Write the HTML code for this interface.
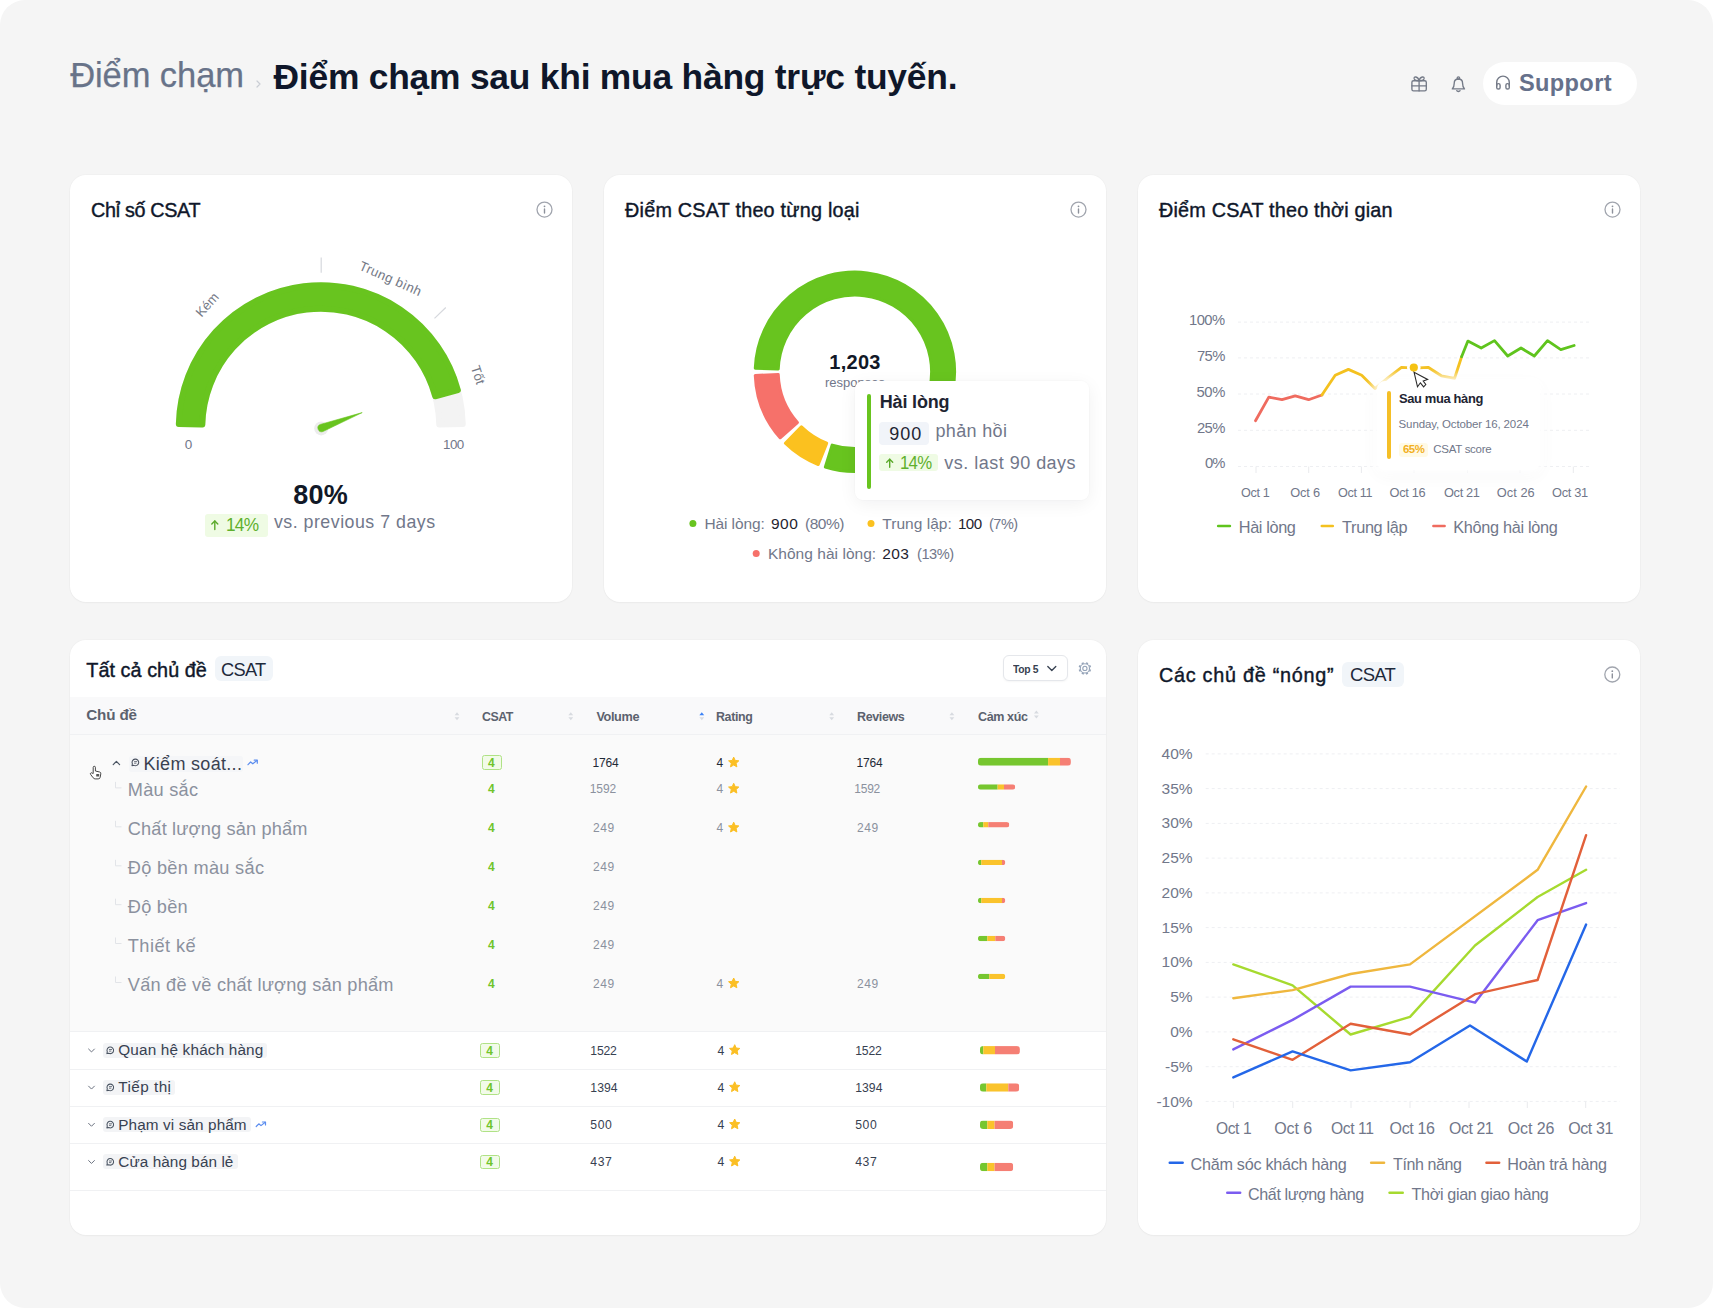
<!DOCTYPE html>
<html lang="vi"><head><meta charset="utf-8"><title>Điểm chạm sau khi mua hàng trực tuyến</title>
<style>
html,body{margin:0;padding:0;background:#fff;}
body{width:1713px;height:1308px;overflow:hidden;font-family:"Liberation Sans", sans-serif;}
#app{position:relative;width:1713px;height:1308px;background:#f5f5f5;border-radius:25px;overflow:hidden;}
.t{position:absolute;display:block;line-height:1;white-space:nowrap;}
svg{position:absolute;overflow:visible;}
</style></head><body><div id="app">
<span class="t" style="font-size:34.5px;color:#687389;-webkit-text-stroke:0.25px #687389;left:70.20px;top:58.00px;letter-spacing:-0.084px;">Điểm chạm</span>
<svg style="left:0;top:0;" width="1713" height="1308" viewBox="0 0 1713 1308"><polyline transform="translate(258.5,84) rotate(-90)" points="-3,-1.5 0,1.5 3,-1.5" fill="none" stroke="#c9cdd4" stroke-width="1.2" stroke-linecap="round" stroke-linejoin="round"/></svg>
<span class="t" style="font-size:35.4px;color:#0f172a;font-weight:700;left:273.50px;top:60.30px;letter-spacing:-0.226px;">Điểm chạm sau khi mua hàng trực tuyến.</span>
<svg style="left:0;top:0;" width="1713" height="1308" viewBox="0 0 1713 1308"><g fill="none" stroke="#747a87" stroke-width="1.35" stroke-linejoin="round" stroke-linecap="round"><rect x="1411.9" y="80.7" width="14.4" height="10.2" rx="1.6"/><line x1="1411.9" y1="85.8" x2="1426.3" y2="85.8"/><line x1="1419.1" y1="80.7" x2="1419.1" y2="90.9"/><path d="M1419.1,80.7 C1417.9,76.2 1413.4,76 1414.2,78.9 C1414.8,80.9 1417.2,80.7 1419.1,80.7 C1421,80.7 1423.4,80.9 1424,78.9 C1424.8,76 1420.3,76.2 1419.1,80.7 Z"/></g><g fill="none" stroke="#747a87" stroke-width="1.35" stroke-linejoin="round" stroke-linecap="round"><path d="M1452.3,88.9 H1464.5 C1463,87.4 1462.6,85.5 1462.6,83.4 C1462.6,80.6 1460.8,79 1458.4,79 C1456,79 1454.2,80.6 1454.2,83.4 C1454.2,85.5 1453.8,87.4 1452.3,88.9 Z"/><circle cx="1458.4" cy="78" r="1.2"/><path d="M1456.7,90.7 C1457.4,91.7 1459.4,91.7 1460.1,90.7"/></g></svg>
<div style="position:absolute;left:1482.5px;top:62.2px;width:154.7px;height:43.0px;background:#fff;border-radius:22px;"></div>
<svg style="left:0;top:0;" width="1713" height="1308" viewBox="0 0 1713 1308"><g fill="none" stroke="#747a87" stroke-width="1.4" stroke-linejoin="round" stroke-linecap="round"><path d="M1496.7,86 V82.4 A6.3,6.3 0 0 1 1509.3,82.4 V86"/><rect x="1496.7" y="83.6" width="3.4" height="5.4" rx="1.6"/><rect x="1505.9" y="83.6" width="3.4" height="5.4" rx="1.6"/></g></svg>
<span class="t" style="font-size:23.6px;color:#66718b;font-weight:700;left:1518.90px;top:72.30px;letter-spacing:0.377px;">Support</span>
<div style="position:absolute;left:70.0px;top:175.0px;width:502.0px;height:427.0px;background:#fff;border-radius:16px;box-shadow:0 1px 2px rgba(0,0,0,0.03),0 0 0 1px rgba(0,0,0,0.015);"></div>
<div style="position:absolute;left:604.0px;top:175.0px;width:502.0px;height:427.0px;background:#fff;border-radius:16px;box-shadow:0 1px 2px rgba(0,0,0,0.03),0 0 0 1px rgba(0,0,0,0.015);"></div>
<div style="position:absolute;left:1138.0px;top:175.0px;width:502.0px;height:427.0px;background:#fff;border-radius:16px;box-shadow:0 1px 2px rgba(0,0,0,0.03),0 0 0 1px rgba(0,0,0,0.015);"></div>
<div style="position:absolute;left:70.0px;top:640.0px;width:1036.4px;height:594.5px;background:#fff;border-radius:16px;box-shadow:0 1px 2px rgba(0,0,0,0.03),0 0 0 1px rgba(0,0,0,0.015);"></div>
<div style="position:absolute;left:1138.0px;top:640.0px;width:502.0px;height:594.5px;background:#fff;border-radius:16px;box-shadow:0 1px 2px rgba(0,0,0,0.03),0 0 0 1px rgba(0,0,0,0.015);"></div>
<span class="t" style="font-size:19.8px;color:#0f172a;-webkit-text-stroke:0.4px #0f172a;left:91.10px;top:201.40px;letter-spacing:-0.336px;">Chỉ số CSAT</span>
<svg style="left:0;top:0;" width="1713" height="1308" viewBox="0 0 1713 1308"><path d="M178.84,423.93 A142.00,142.00 0 0 1 462.76,423.93 L439.27,424.47 A118.50,118.50 0 0 0 202.33,424.47 Z" fill="#f3f3f3" stroke="#f3f3f3" stroke-width="6" stroke-linejoin="round"/><path d="M178.84,423.93 A142.00,142.00 0 0 1 457.88,390.16 L435.20,396.29 A118.50,118.50 0 0 0 202.33,424.47 Z" fill="#68c41f" stroke="#68c41f" stroke-width="6" stroke-linejoin="round"/><line x1="321.2" y1="257.5" x2="321.2" y2="272.7" stroke="#d6d8dd" stroke-width="1.2"/><line x1="434.5" y1="318.4" x2="445.8" y2="307.5" stroke="#d6d8dd" stroke-width="1.2"/><circle cx="321.2" cy="428.4" r="7" fill="#ececec"/><path d="M322.95,431.55 L362.20,412.60 L320.25,424.45 A3.8,3.8 0 0 0 322.95,431.55 Z" fill="#68c41f" stroke="#68c41f" stroke-width="0.6" stroke-linejoin="round"/><circle cx="544.5" cy="209.6" r="7.5" fill="none" stroke="#a1a5ae" stroke-width="1.3"/><line x1="544.5" y1="209.0" x2="544.5" y2="213.0" stroke="#8d919b" stroke-width="1.4" stroke-linecap="round"/><circle cx="544.5" cy="206.29999999999998" r="0.9" fill="#8d919b"/><circle cx="1078.5" cy="209.6" r="7.5" fill="none" stroke="#a1a5ae" stroke-width="1.3"/><line x1="1078.5" y1="209.0" x2="1078.5" y2="213.0" stroke="#8d919b" stroke-width="1.4" stroke-linecap="round"/><circle cx="1078.5" cy="206.29999999999998" r="0.9" fill="#8d919b"/><circle cx="1612.5" cy="209.6" r="7.5" fill="none" stroke="#a1a5ae" stroke-width="1.3"/><line x1="1612.5" y1="209.0" x2="1612.5" y2="213.0" stroke="#8d919b" stroke-width="1.4" stroke-linecap="round"/><circle cx="1612.5" cy="206.29999999999998" r="0.9" fill="#8d919b"/><circle cx="1612.3" cy="674.5" r="7.5" fill="none" stroke="#a1a5ae" stroke-width="1.3"/><line x1="1612.3" y1="673.9" x2="1612.3" y2="677.9" stroke="#8d919b" stroke-width="1.4" stroke-linecap="round"/><circle cx="1612.3" cy="671.2" r="0.9" fill="#8d919b"/></svg>
<span class="t" style="font-size:13.2px;color:#747986;left:193.64px;top:298.46px;transform-origin:13.56px 7.04px;transform:rotate(-48deg);">Kém</span>
<span class="t" style="font-size:13.2px;color:#747986;left:356.65px;top:271.66px;letter-spacing:0.356px;transform-origin:33.25px 7.04px;transform:rotate(24deg);">Trung bình</span>
<span class="t" style="font-size:13.2px;color:#747986;left:468.07px;top:367.96px;transform-origin:9.53px 7.04px;transform:rotate(72deg);">Tốt</span>
<span class="t" style="font-size:13.5px;color:#71778a;left:184.64px;top:437.80px;">0</span>
<span class="t" style="font-size:13.5px;color:#71778a;left:442.80px;top:437.80px;letter-spacing:-0.507px;transform-origin:0 0;transform:scaleX(0.9899);">100</span>
<span class="t" style="font-size:27px;color:#111827;font-weight:700;left:293.20px;top:481.70px;letter-spacing:0.327px;">80%</span>
<div style="position:absolute;left:205.2px;top:514.0px;width:62.7px;height:22.8px;background:#effbe4;border-radius:3px;"></div>
<svg style="left:0;top:0;" width="1713" height="1308" viewBox="0 0 1713 1308"><line x1="214.8" y1="520.95" x2="214.8" y2="529.45" stroke="#5aa92a" stroke-width="1.4" stroke-linecap="round"/><polyline points="211.8,523.95 214.8,520.95 217.8,523.95" fill="none" stroke="#5aa92a" stroke-width="1.4" stroke-linecap="round" stroke-linejoin="round"/></svg>
<span class="t" style="font-size:18px;color:#5fb02c;left:226.00px;top:515.70px;letter-spacing:-0.811px;transform-origin:0 0;transform:scaleX(0.9590);">14%</span>
<span class="t" style="font-size:17.8px;color:#71778a;left:273.90px;top:513.70px;letter-spacing:0.500px;">vs. previous 7 days</span>
<span class="t" style="font-size:19.8px;color:#0f172a;-webkit-text-stroke:0.4px #0f172a;left:625.00px;top:201.40px;letter-spacing:0.234px;">Điểm CSAT theo từng loại</span>
<svg style="left:0;top:0;" width="1713" height="1308" viewBox="0 0 1713 1308"><path d="M755.27,375.41 A99.70,99.70 0 0 0 780.14,437.77 L797.39,422.55 A76.70,76.70 0 0 1 778.25,374.58 Z" fill="#f6716a" stroke="#f6716a" stroke-width="3.0" stroke-linejoin="round"/><path d="M785.36,443.24 A99.70,99.70 0 0 0 818.24,464.52 L826.70,443.13 A76.70,76.70 0 0 1 801.40,426.76 Z" fill="#fbc11f" stroke="#fbc11f" stroke-width="3.0" stroke-linejoin="round"/><path d="M825.38,467.03 A99.70,99.70 0 1 0 755.27,368.19 L778.25,369.02 A76.70,76.70 0 1 1 832.19,445.06 Z" fill="#68c41f" stroke="#68c41f" stroke-width="3.0" stroke-linejoin="round"/></svg>
<span class="t" style="font-size:20px;color:#111827;font-weight:700;left:829.30px;top:352.30px;letter-spacing:0.259px;">1,203</span>
<span class="t" style="font-size:13px;color:#71778a;left:825.01px;top:376.00px;">responses</span>
<div style="position:absolute;left:854.5px;top:381.0px;width:234.4px;height:118.6px;background:#fff;border-radius:8px;box-shadow:0 4px 18px rgba(15,23,42,0.06),0 0 0 1px rgba(15,23,42,0.012);"></div>
<div style="position:absolute;left:866.7px;top:393.5px;width:4.6px;height:95.2px;background:#68c41f;border-radius:2.3px;"></div>
<span class="t" style="font-size:18px;color:#1e2432;font-weight:700;left:879.80px;top:393.20px;letter-spacing:-0.186px;">Hài lòng</span>
<div style="position:absolute;left:878.7px;top:421.8px;width:50.5px;height:23.2px;background:#f1f4f9;border-radius:4px;"></div>
<span class="t" style="font-size:18px;color:#1e2432;left:889.20px;top:424.70px;letter-spacing:0.977px;">900</span>
<span class="t" style="font-size:18px;color:#71778a;left:935.50px;top:421.50px;letter-spacing:0.332px;">phản hồi</span>
<div style="position:absolute;left:878.7px;top:454.4px;width:58.9px;height:16.8px;background:#effbe4;border-radius:3px;"></div>
<svg style="left:0;top:0;" width="1713" height="1308" viewBox="0 0 1713 1308"><line x1="889.7" y1="459.2" x2="889.7" y2="467.2" stroke="#5aa92a" stroke-width="1.4" stroke-linecap="round"/><polyline points="886.7,462.2 889.7,459.2 892.7,462.2" fill="none" stroke="#5aa92a" stroke-width="1.4" stroke-linecap="round" stroke-linejoin="round"/></svg>
<span class="t" style="font-size:17.7px;color:#5fb02c;left:900.20px;top:454.70px;letter-spacing:-0.797px;transform-origin:0 0;transform:scaleX(0.9493);">14%</span>
<span class="t" style="font-size:18px;color:#71778a;left:944.30px;top:453.70px;letter-spacing:0.483px;">vs. last 90 days</span>
<svg style="left:0;top:0;" width="1713" height="1308" viewBox="0 0 1713 1308"><circle cx="692.9" cy="523.4" r="3.5" fill="#68c41f"/><circle cx="871" cy="523.4" r="3.5" fill="#fbc11f"/><circle cx="756.2" cy="553.4" r="3.5" fill="#f6716a"/></svg>
<span class="t" style="font-size:15.5px;color:#71778a;left:704.50px;top:516.10px;letter-spacing:-0.111px;">Hài lòng:</span>
<span class="t" style="font-size:15.5px;color:#1f2430;left:770.90px;top:516.10px;letter-spacing:0.562px;">900</span>
<span class="t" style="font-size:15.5px;color:#71778a;left:805.00px;top:516.10px;letter-spacing:-0.465px;">(80%)</span>
<span class="t" style="font-size:15.5px;color:#71778a;left:882.30px;top:516.10px;letter-spacing:0.031px;">Trung lập:</span>
<span class="t" style="font-size:15.5px;color:#1f2430;left:957.90px;top:516.10px;letter-spacing:-0.582px;transform-origin:0 0;transform:scaleX(0.9753);">100</span>
<span class="t" style="font-size:15.5px;color:#71778a;left:989.00px;top:516.10px;letter-spacing:-0.491px;transform-origin:0 0;transform:scaleX(0.9341);">(7%)</span>
<span class="t" style="font-size:15.5px;color:#71778a;left:767.90px;top:546.10px;letter-spacing:0.040px;">Không hài lòng:</span>
<span class="t" style="font-size:15.5px;color:#1f2430;left:882.30px;top:546.10px;letter-spacing:0.363px;">203</span>
<span class="t" style="font-size:15.5px;color:#71778a;left:916.60px;top:546.10px;letter-spacing:-0.465px;transform-origin:0 0;transform:scaleX(0.9418);">(13%)</span>
<span class="t" style="font-size:19.8px;color:#0f172a;-webkit-text-stroke:0.4px #0f172a;left:1159.00px;top:201.40px;letter-spacing:0.202px;">Điểm CSAT theo thời gian</span>
<svg style="left:0;top:0;" width="1713" height="1308" viewBox="0 0 1713 1308"><line x1="1238" y1="322.1" x2="1590" y2="322.1" stroke="#eeeff2" stroke-width="1" stroke-dasharray="3 3"/><line x1="1238" y1="357.9" x2="1590" y2="357.9" stroke="#eeeff2" stroke-width="1" stroke-dasharray="3 3"/><line x1="1238" y1="394" x2="1590" y2="394" stroke="#eeeff2" stroke-width="1" stroke-dasharray="3 3"/><line x1="1238" y1="430.3" x2="1590" y2="430.3" stroke="#eeeff2" stroke-width="1" stroke-dasharray="3 3"/><line x1="1238" y1="466.5" x2="1590" y2="466.5" stroke="#eeeff2" stroke-width="1" stroke-dasharray="3 3"/><line x1="1256" y1="466.5" x2="1256" y2="473" stroke="#e9eaed" stroke-width="1"/><line x1="1308.7" y1="466.5" x2="1308.7" y2="473" stroke="#e9eaed" stroke-width="1"/><line x1="1361.4" y1="466.5" x2="1361.4" y2="473" stroke="#e9eaed" stroke-width="1"/><line x1="1414" y1="466.5" x2="1414" y2="473" stroke="#e9eaed" stroke-width="1"/><line x1="1467.5" y1="466.5" x2="1467.5" y2="473" stroke="#e9eaed" stroke-width="1"/><line x1="1520" y1="466.5" x2="1520" y2="473" stroke="#e9eaed" stroke-width="1"/><line x1="1573.3" y1="466.5" x2="1573.3" y2="473" stroke="#e9eaed" stroke-width="1"/><polyline points="1255.5,420.7 1268.8,397.1 1282.0,399.7 1295.3,395.8 1308.6,399.7 1321.9,395.0" fill="none" stroke="#ef6b5f" stroke-width="2.8" stroke-linejoin="round" stroke-linecap="round"/><polyline points="1321.9,395.0 1335.2,375.3 1348.4,369.4 1361.7,375.3 1375.0,388.6 1388.2,377.5 1401.5,367.3 1414.8,368.1 1428.1,367.3 1441.3,375.8 1454.6,378.3 1461.6,356.8" fill="none" stroke="#f4c11f" stroke-width="2.8" stroke-linejoin="round" stroke-linecap="round"/><polyline points="1461.6,356.8 1467.9,341.1 1481.2,348.0 1494.5,340.6 1507.7,356.0 1521.0,348.0 1534.3,356.0 1547.5,340.6 1560.8,349.6 1574.1,345.5" fill="none" stroke="#5fc41d" stroke-width="2.8" stroke-linejoin="round" stroke-linecap="round"/></svg>
<span class="t" style="font-size:14.8px;color:#71778a;left:1189.40px;top:313.20px;letter-spacing:-0.568px;transform-origin:0 0;transform:scaleX(0.9957);">100%</span>
<span class="t" style="font-size:14.8px;color:#71778a;left:1196.90px;top:349.10px;letter-spacing:-0.562px;">75%</span>
<span class="t" style="font-size:14.8px;color:#71778a;left:1196.40px;top:385.10px;letter-spacing:-0.312px;">50%</span>
<span class="t" style="font-size:14.8px;color:#71778a;left:1196.90px;top:420.50px;letter-spacing:-0.562px;">25%</span>
<span class="t" style="font-size:14.8px;color:#71778a;left:1204.90px;top:455.70px;letter-spacing:-0.891px;">0%</span>
<span class="t" style="font-size:12.8px;color:#71778a;left:1241.40px;top:487.30px;letter-spacing:-0.344px;transform-origin:0 0;transform:scaleX(0.9857);">Oct 1</span>
<span class="t" style="font-size:12.8px;color:#71778a;left:1290.15px;top:487.30px;letter-spacing:-0.123px;">Oct 6</span>
<span class="t" style="font-size:12.8px;color:#71778a;left:1338.30px;top:487.30px;letter-spacing:-0.331px;transform-origin:0 0;transform:scaleX(0.9859);">Oct 11</span>
<span class="t" style="font-size:12.8px;color:#71778a;left:1389.60px;top:487.30px;letter-spacing:-0.339px;">Oct 16</span>
<span class="t" style="font-size:12.8px;color:#71778a;left:1443.55px;top:487.30px;letter-spacing:-0.339px;transform-origin:0 0;transform:scaleX(0.9970);">Oct 21</span>
<span class="t" style="font-size:12.8px;color:#71778a;left:1496.65px;top:487.30px;letter-spacing:0.079px;">Oct 26</span>
<span class="t" style="font-size:12.8px;color:#71778a;left:1552.00px;top:487.30px;letter-spacing:-0.301px;">Oct 31</span>
<svg style="left:0;top:0;" width="1713" height="1308" viewBox="0 0 1713 1308"><line x1="1218.2" y1="526" x2="1229.9" y2="526" stroke="#5fc41d" stroke-width="2.6" stroke-linecap="round"/><line x1="1321.8" y1="526" x2="1332.8" y2="526" stroke="#f4c11f" stroke-width="2.6" stroke-linecap="round"/><line x1="1433.4" y1="526" x2="1444.6" y2="526" stroke="#ef6b5f" stroke-width="2.6" stroke-linecap="round"/></svg>
<span class="t" style="font-size:16.3px;color:#71778a;left:1238.80px;top:518.50px;letter-spacing:-0.379px;">Hài lòng</span>
<span class="t" style="font-size:16.3px;color:#71778a;left:1342.10px;top:518.50px;letter-spacing:-0.336px;">Trung lập</span>
<span class="t" style="font-size:16.3px;color:#71778a;left:1453.30px;top:518.50px;letter-spacing:-0.311px;">Không hài lòng</span>
<div style="position:absolute;left:1376.5px;top:380.5px;width:163.4px;height:89.0px;background:#fff;border-radius:8px;box-shadow:0 0 10px 5px rgba(255,255,255,0.92),0 5px 18px rgba(15,23,42,0.045);"></div>
<div style="position:absolute;left:1387.0px;top:391.2px;width:4.0px;height:67.5px;background:#f5bf27;border-radius:2px;"></div>
<span class="t" style="font-size:13.5px;color:#1e2432;font-weight:700;left:1399.10px;top:392.30px;letter-spacing:-0.377px;transform-origin:0 0;transform:scaleX(0.9567);">Sau mua hàng</span>
<span class="t" style="font-size:11.5px;color:#71778a;left:1398.60px;top:418.90px;letter-spacing:-0.140px;">Sunday, October 16, 2024</span>
<div style="position:absolute;left:1398.6px;top:442.6px;width:29.5px;height:14.1px;background:#fffae6;border-radius:3px;"></div>
<span class="t" style="font-size:11.5px;color:#f2b01e;font-weight:700;left:1402.50px;top:444.40px;letter-spacing:-0.518px;transform-origin:0 0;transform:scaleX(0.9911);">65%</span>
<span class="t" style="font-size:11.5px;color:#71778a;left:1433.30px;top:444.40px;letter-spacing:-0.293px;">CSAT score</span>
<svg style="left:0;top:0;" width="1713" height="1308" viewBox="0 0 1713 1308"><circle cx="1413.8" cy="367.6" r="6.8" fill="#fff"/><circle cx="1413.8" cy="367.6" r="4.1" fill="#f5c213"/><path d="M1414.1,372.3 L1417.5,386.8 L1420.4,382.8 L1423.6,386.9 L1425.8,384.5 L1423.2,381 L1427.6,379.5 Z" fill="#fff" stroke="#2a2a2a" stroke-width="1.1" stroke-linejoin="miter"/></svg>
<span class="t" style="font-size:19.8px;color:#0f172a;-webkit-text-stroke:0.4px #0f172a;left:86.30px;top:660.60px;letter-spacing:0.053px;">Tất cả chủ đề</span>
<div style="position:absolute;left:215.1px;top:655.6px;width:57.7px;height:25.1px;background:#f1f5f9;border-radius:6px;"></div>
<span class="t" style="font-size:19px;color:#1e293b;left:220.60px;top:660.40px;letter-spacing:-0.739px;transform-origin:0 0;transform:scaleX(0.9607);">CSAT</span>
<div style="position:absolute;left:1002.7px;top:655.3px;width:65.4px;height:25.4px;background:#fff;border-radius:6px;box-sizing:border-box;border:1px solid #e5e7eb;box-shadow:0 1px 2px rgba(0,0,0,0.04);"></div>
<span class="t" style="font-size:11.2px;color:#374151;font-weight:700;left:1012.60px;top:664.30px;letter-spacing:-0.326px;transform-origin:0 0;transform:scaleX(0.9239);">Top 5</span>
<div style="position:absolute;left:70.0px;top:696.5px;width:1036.4px;height:38.0px;background:#f9f9fa;border-radius:0px;"></div>
<div style="position:absolute;left:70.0px;top:734.5px;width:1036.4px;height:297.0px;background:#fafafa;border-radius:0px;"></div>
<div style="position:absolute;left:70.0px;top:734.2px;width:1036.4px;height:1.0px;background:#f0f1f3;border-radius:0px;"></div>
<div style="position:absolute;left:70.0px;top:1031.4px;width:1036.4px;height:1.0px;background:#f0f1f3;border-radius:0px;"></div>
<div style="position:absolute;left:70.0px;top:1068.5px;width:1036.4px;height:1.0px;background:#f0f1f3;border-radius:0px;"></div>
<div style="position:absolute;left:70.0px;top:1105.7px;width:1036.4px;height:1.0px;background:#f0f1f3;border-radius:0px;"></div>
<div style="position:absolute;left:70.0px;top:1143.0px;width:1036.4px;height:1.0px;background:#f0f1f3;border-radius:0px;"></div>
<div style="position:absolute;left:70.0px;top:1190.3px;width:1036.4px;height:1.0px;background:#f0f1f3;border-radius:0px;"></div>
<span class="t" style="font-size:15.2px;color:#5c626e;font-weight:700;left:86.30px;top:707.30px;letter-spacing:-0.154px;">Chủ đề</span>
<span class="t" style="font-size:12.7px;color:#5c626e;font-weight:700;left:482.20px;top:710.90px;letter-spacing:-0.504px;transform-origin:0 0;transform:scaleX(0.9752);">CSAT</span>
<span class="t" style="font-size:12.7px;color:#5c626e;font-weight:700;left:596.40px;top:710.90px;letter-spacing:-0.358px;">Volume</span>
<span class="t" style="font-size:12.7px;color:#5c626e;font-weight:700;left:716.10px;top:710.90px;letter-spacing:-0.355px;transform-origin:0 0;transform:scaleX(0.9786);">Rating</span>
<span class="t" style="font-size:12.7px;color:#5c626e;font-weight:700;left:857.40px;top:710.90px;letter-spacing:-0.381px;transform-origin:0 0;transform:scaleX(0.9856);">Reviews</span>
<span class="t" style="font-size:12.7px;color:#5c626e;font-weight:700;left:977.50px;top:710.90px;letter-spacing:-0.397px;transform-origin:0 0;transform:scaleX(0.9879);">Cảm xúc</span>
<div style="position:absolute;left:129.0px;top:756.0px;width:114.0px;height:15.5px;background:#f5f6f8;border-radius:3px;"></div>
<svg style="left:0;top:0;" width="1713" height="1308" viewBox="0 0 1713 1308"><polyline points="1047.8,666.5 1051.8,670.5 1055.8,666.5" fill="none" stroke="#374151" stroke-width="1.3" stroke-linecap="round" stroke-linejoin="round"/><g fill="none" stroke="#94a3b8" stroke-width="1.1"><circle cx="1084.9" cy="668.4" r="2.1"/><circle cx="1084.9" cy="668.4" r="4.6"/></g><line x1="1089.33" y1="670.24" x2="1090.72" y2="670.81" stroke="#94a3b8" stroke-width="2.2"/><line x1="1086.74" y1="672.83" x2="1087.31" y2="674.22" stroke="#94a3b8" stroke-width="2.2"/><line x1="1083.06" y1="672.83" x2="1082.49" y2="674.22" stroke="#94a3b8" stroke-width="2.2"/><line x1="1080.47" y1="670.24" x2="1079.08" y2="670.81" stroke="#94a3b8" stroke-width="2.2"/><line x1="1080.47" y1="666.56" x2="1079.08" y2="665.99" stroke="#94a3b8" stroke-width="2.2"/><line x1="1083.06" y1="663.97" x2="1082.49" y2="662.58" stroke="#94a3b8" stroke-width="2.2"/><line x1="1086.74" y1="663.97" x2="1087.31" y2="662.58" stroke="#94a3b8" stroke-width="2.2"/><line x1="1089.33" y1="666.56" x2="1090.72" y2="665.99" stroke="#94a3b8" stroke-width="2.2"/><polygon points="454.6,715.2 459.4,715.2 457,712.2" fill="#d8dbe0"/><polygon points="454.6,717.2 459.4,717.2 457,720.2" fill="#d8dbe0"/><polygon points="568.4,715.2 573.1999999999999,715.2 570.8,712.2" fill="#d8dbe0"/><polygon points="568.4,717.2 573.1999999999999,717.2 570.8,720.2" fill="#d8dbe0"/><polygon points="829.3000000000001,715.2 834.1,715.2 831.7,712.2" fill="#d8dbe0"/><polygon points="829.3000000000001,717.2 834.1,717.2 831.7,720.2" fill="#d8dbe0"/><polygon points="949.5,715.2 954.3,715.2 951.9,712.2" fill="#d8dbe0"/><polygon points="949.5,717.2 954.3,717.2 951.9,720.2" fill="#d8dbe0"/><polygon points="699.4,715.2 704.1999999999999,715.2 701.8,712.2" fill="#3b82f6"/><polygon points="699.4,717.2 704.1999999999999,717.2 701.8,720.2" fill="#d8dbe0"/><polygon points="1034.0,713.6 1038.8000000000002,713.6 1036.4,710.6" fill="#d8dbe0"/><polygon points="1034.0,715.6 1038.8000000000002,715.6 1036.4,718.6" fill="#d8dbe0"/><polyline points="113.2,764.6 116.4,761.4 119.60000000000001,764.6" fill="none" stroke="#4b5563" stroke-width="1.2" stroke-linecap="round" stroke-linejoin="round"/><path d="M132.0,765.6999999999999 L132.4,763.8 A3.3,3.3 0 1 1 133.9,765.35 Z" fill="none" stroke="#4b5260" stroke-width="1.05" stroke-linejoin="round"/><line x1="134.1" y1="761.6" x2="137.1" y2="761.6" stroke="#4b5260" stroke-width="0.8"/><line x1="134.1" y1="763.1999999999999" x2="136.4" y2="763.1999999999999" stroke="#4b5260" stroke-width="0.8"/><polyline points="248,764.7 250.6,762.0 252.8,763.8000000000001 257,760.5" fill="none" stroke="#5b8def" stroke-width="1.2" stroke-linejoin="round" stroke-linecap="round"/><polyline points="254.2,760.2 257.3,760.2 257.3,763.2" fill="none" stroke="#5b8def" stroke-width="1.2" stroke-linejoin="round" stroke-linecap="round"/><g fill="#fff" stroke="#333" stroke-width="0.9" stroke-linejoin="round"><path d="M93.2,773.5 V767.4 A1.1,1.1 0 0 1 95.4,767.4 V771 L99.6,772 A1.6,1.6 0 0 1 100.8,773.8 L100.2,777.2 A2,2 0 0 1 98.2,778.9 H95.2 A2.4,2.4 0 0 1 93.2,777.8 L90.6,774.4 A1,1 0 0 1 92.2,773.2 Z"/></g><rect x="96.2" y="774" width="3" height="2.6" rx="0.6" fill="#555"/><polyline points="115.5,781.9 115.5,787.9 121.5,787.9" fill="none" stroke="#e2e4e8" stroke-width="1"/><polyline points="115.5,820.8 115.5,826.8 121.5,826.8" fill="none" stroke="#e2e4e8" stroke-width="1"/><polyline points="115.5,859.8 115.5,865.8 121.5,865.8" fill="none" stroke="#e2e4e8" stroke-width="1"/><polyline points="115.5,898.7 115.5,904.7 121.5,904.7" fill="none" stroke="#e2e4e8" stroke-width="1"/><polyline points="115.5,937.5 115.5,943.5 121.5,943.5" fill="none" stroke="#e2e4e8" stroke-width="1"/><polyline points="115.5,976.5 115.5,982.5 121.5,982.5" fill="none" stroke="#e2e4e8" stroke-width="1"/></svg>
<span class="t" style="font-size:18px;color:#3a4150;left:143.50px;top:754.80px;letter-spacing:0.305px;">Kiểm soát...</span>
<span class="t" style="font-size:18.2px;color:#8b919e;left:127.80px;top:781.40px;letter-spacing:0.258px;">Màu sắc</span>
<span class="t" style="font-size:18.2px;color:#8b919e;left:127.80px;top:820.30px;letter-spacing:0.162px;">Chất lượng sản phẩm</span>
<span class="t" style="font-size:18.2px;color:#8b919e;left:127.80px;top:859.30px;letter-spacing:0.289px;">Độ bền màu sắc</span>
<span class="t" style="font-size:18.2px;color:#8b919e;left:127.80px;top:898.20px;letter-spacing:0.249px;">Độ bền</span>
<span class="t" style="font-size:18.2px;color:#8b919e;left:127.80px;top:937.00px;letter-spacing:0.442px;">Thiết kế</span>
<span class="t" style="font-size:18.2px;color:#8b919e;left:127.80px;top:976.00px;letter-spacing:0.215px;">Vấn đề về chất lượng sản phẩm</span>
<div style="position:absolute;left:482.0px;top:755.3px;width:19.6px;height:14.3px;background:#f2fbe9;border-radius:2.5px;box-sizing:border-box;border:1px solid #b0e286;"></div>
<span class="t" style="font-size:12px;color:#70c42a;font-weight:700;left:487.96px;top:756.60px;">4</span>
<span class="t" style="font-size:12px;color:#1f2937;left:592.40px;top:756.60px;letter-spacing:-0.134px;">1764</span>
<span class="t" style="font-size:12px;color:#1f2937;left:716.60px;top:756.60px;">4</span>
<span class="t" style="font-size:12px;color:#1f2937;left:856.60px;top:756.60px;letter-spacing:-0.234px;">1764</span>
<span class="t" style="font-size:12px;color:#70c42a;font-weight:700;left:487.96px;top:782.80px;">4</span>
<span class="t" style="font-size:12px;color:#70c42a;font-weight:700;left:487.96px;top:821.70px;">4</span>
<span class="t" style="font-size:12px;color:#70c42a;font-weight:700;left:487.96px;top:860.70px;">4</span>
<span class="t" style="font-size:12px;color:#70c42a;font-weight:700;left:487.96px;top:899.60px;">4</span>
<span class="t" style="font-size:12px;color:#70c42a;font-weight:700;left:487.96px;top:938.50px;">4</span>
<span class="t" style="font-size:12px;color:#70c42a;font-weight:700;left:487.96px;top:977.50px;">4</span>
<span class="t" style="font-size:12px;color:#8b919e;left:589.80px;top:782.80px;letter-spacing:-0.101px;">1592</span>
<span class="t" style="font-size:12px;color:#8b919e;left:716.60px;top:782.80px;">4</span>
<span class="t" style="font-size:12px;color:#8b919e;left:854.20px;top:782.80px;letter-spacing:-0.201px;">1592</span>
<span class="t" style="font-size:12px;color:#8b919e;left:592.90px;top:821.70px;letter-spacing:0.634px;">249</span>
<span class="t" style="font-size:12px;color:#8b919e;left:592.90px;top:860.70px;letter-spacing:0.634px;">249</span>
<span class="t" style="font-size:12px;color:#8b919e;left:592.90px;top:899.60px;letter-spacing:0.634px;">249</span>
<span class="t" style="font-size:12px;color:#8b919e;left:592.90px;top:938.50px;letter-spacing:0.634px;">249</span>
<span class="t" style="font-size:12px;color:#8b919e;left:592.90px;top:977.50px;letter-spacing:0.634px;">249</span>
<span class="t" style="font-size:12px;color:#8b919e;left:716.60px;top:821.70px;">4</span>
<span class="t" style="font-size:12px;color:#8b919e;left:856.90px;top:821.70px;letter-spacing:0.634px;">249</span>
<span class="t" style="font-size:12px;color:#8b919e;left:716.60px;top:977.50px;">4</span>
<span class="t" style="font-size:12px;color:#8b919e;left:856.90px;top:977.50px;letter-spacing:0.634px;">249</span>
<div style="position:absolute;left:103.2px;top:1042.7px;width:164.3px;height:15.0px;background:#f3f4f6;border-radius:3px;"></div>
<div style="position:absolute;left:480.2px;top:1043.3px;width:19.6px;height:14.3px;background:#f2fbe9;border-radius:2.5px;box-sizing:border-box;border:1px solid #b0e286;"></div>
<div style="position:absolute;left:103.2px;top:1079.8px;width:72.0px;height:15.0px;background:#f3f4f6;border-radius:3px;"></div>
<div style="position:absolute;left:480.2px;top:1080.4px;width:19.6px;height:14.3px;background:#f2fbe9;border-radius:2.5px;box-sizing:border-box;border:1px solid #b0e286;"></div>
<div style="position:absolute;left:103.2px;top:1117.0px;width:147.6px;height:15.0px;background:#f3f4f6;border-radius:3px;"></div>
<div style="position:absolute;left:480.2px;top:1117.6px;width:19.6px;height:14.3px;background:#f2fbe9;border-radius:2.5px;box-sizing:border-box;border:1px solid #b0e286;"></div>
<div style="position:absolute;left:103.2px;top:1154.2px;width:134.4px;height:15.0px;background:#f3f4f6;border-radius:3px;"></div>
<div style="position:absolute;left:480.2px;top:1154.8px;width:19.6px;height:14.3px;background:#f2fbe9;border-radius:2.5px;box-sizing:border-box;border:1px solid #b0e286;"></div>
<svg style="left:0;top:0;" width="1713" height="1308" viewBox="0 0 1713 1308"><polygon points="733.70,757.10 735.19,760.45 738.84,760.83 736.11,763.28 736.87,766.87 733.70,765.04 730.53,766.87 731.29,763.28 728.56,760.83 732.21,760.45" fill="#fbbf24" stroke="#fbbf24" stroke-width="1" stroke-linejoin="round"/><polygon points="733.70,783.30 735.19,786.65 738.84,787.03 736.11,789.48 736.87,793.07 733.70,791.24 730.53,793.07 731.29,789.48 728.56,787.03 732.21,786.65" fill="#fbbf24" stroke="#fbbf24" stroke-width="1" stroke-linejoin="round"/><polygon points="733.70,822.20 735.19,825.55 738.84,825.93 736.11,828.38 736.87,831.97 733.70,830.14 730.53,831.97 731.29,828.38 728.56,825.93 732.21,825.55" fill="#fbbf24" stroke="#fbbf24" stroke-width="1" stroke-linejoin="round"/><polygon points="733.70,978.00 735.19,981.35 738.84,981.73 736.11,984.18 736.87,987.77 733.70,985.94 730.53,987.77 731.29,984.18 728.56,981.73 732.21,981.35" fill="#fbbf24" stroke="#fbbf24" stroke-width="1" stroke-linejoin="round"/><clipPath id="c7617"><rect x="978" y="757.7" width="92.90000000000009" height="8" rx="3.2"/></clipPath><g clip-path="url(#c7617)"><rect x="978" y="757.7" width="70.09999999999991" height="8" fill="#76c62f"/><rect x="1048.1" y="757.7" width="11.900000000000091" height="8" fill="#fac32c"/><rect x="1060" y="757.7" width="10.900000000000091" height="8" fill="#f57f74"/></g><clipPath id="c7870"><rect x="978" y="784.3" width="37.200000000000045" height="5.4" rx="2.7"/></clipPath><g clip-path="url(#c7870)"><rect x="978" y="784.3" width="19.600000000000023" height="5.4" fill="#76c62f"/><rect x="997.6" y="784.3" width="6.399999999999977" height="5.4" fill="#fac32c"/><rect x="1004" y="784.3" width="11.200000000000045" height="5.4" fill="#f57f74"/></g><clipPath id="c8248"><rect x="978" y="822.0999999999999" width="31.299999999999955" height="5.4" rx="2.7"/></clipPath><g clip-path="url(#c8248)"><rect x="978" y="822.0999999999999" width="5.2999999999999545" height="5.4" fill="#76c62f"/><rect x="983.3" y="822.0999999999999" width="5.0" height="5.4" fill="#fac32c"/><rect x="988.3" y="822.0999999999999" width="21.0" height="5.4" fill="#f57f74"/></g><clipPath id="c8624"><rect x="978" y="859.6999999999999" width="27.299999999999955" height="5.4" rx="2.7"/></clipPath><g clip-path="url(#c8624)"><rect x="978" y="859.6999999999999" width="3.2999999999999545" height="5.4" fill="#76c62f"/><rect x="981.3" y="859.6999999999999" width="20.700000000000045" height="5.4" fill="#fac32c"/><rect x="1002" y="859.6999999999999" width="3.2999999999999545" height="5.4" fill="#f57f74"/></g><clipPath id="c9005"><rect x="978" y="897.8" width="27.299999999999955" height="5.4" rx="2.7"/></clipPath><g clip-path="url(#c9005)"><rect x="978" y="897.8" width="3.2999999999999545" height="5.4" fill="#76c62f"/><rect x="981.3" y="897.8" width="20.700000000000045" height="5.4" fill="#fac32c"/><rect x="1002" y="897.8" width="3.2999999999999545" height="5.4" fill="#f57f74"/></g><clipPath id="c9385"><rect x="978" y="935.8" width="27.299999999999955" height="5.4" rx="2.7"/></clipPath><g clip-path="url(#c9385)"><rect x="978" y="935.8" width="9.299999999999955" height="5.4" fill="#76c62f"/><rect x="987.3" y="935.8" width="8.0" height="5.4" fill="#fac32c"/><rect x="995.3" y="935.8" width="10.0" height="5.4" fill="#f57f74"/></g><clipPath id="c9764"><rect x="978" y="973.6999999999999" width="27.299999999999955" height="5.4" rx="2.7"/></clipPath><g clip-path="url(#c9764)"><rect x="978" y="973.6999999999999" width="11.299999999999955" height="5.4" fill="#76c62f"/><rect x="989.3" y="973.6999999999999" width="16.0" height="5.4" fill="#fac32c"/></g><polyline points="88.6,1049.05 91.5,1051.95 94.4,1049.05" fill="none" stroke="#6b7280" stroke-width="1" stroke-linecap="round" stroke-linejoin="round"/><path d="M106.89999999999999,1053.6 L107.3,1051.7 A3.3,3.3 0 1 1 108.8,1053.25 Z" fill="none" stroke="#4b5563" stroke-width="1.05" stroke-linejoin="round"/><line x1="109.0" y1="1049.5" x2="112.0" y2="1049.5" stroke="#4b5563" stroke-width="0.8"/><line x1="109.0" y1="1051.1" x2="111.3" y2="1051.1" stroke="#4b5563" stroke-width="0.8"/><polygon points="734.70,1044.70 736.19,1048.05 739.84,1048.43 737.11,1050.88 737.87,1054.47 734.70,1052.64 731.53,1054.47 732.29,1050.88 729.56,1048.43 733.21,1048.05" fill="#fbbf24" stroke="#fbbf24" stroke-width="1" stroke-linejoin="round"/><clipPath id="c10503"><rect x="980" y="1046.1" width="39.89999999999998" height="8.4" rx="3.2"/></clipPath><g clip-path="url(#c10503)"><rect x="980" y="1046.1" width="3.2999999999999545" height="8.4" fill="#76c62f"/><rect x="983.3" y="1046.1" width="11.700000000000045" height="8.4" fill="#fac32c"/><rect x="995" y="1046.1" width="24.899999999999977" height="8.4" fill="#f57f74"/></g><polyline points="88.6,1086.15 91.5,1089.0500000000002 94.4,1086.15" fill="none" stroke="#6b7280" stroke-width="1" stroke-linecap="round" stroke-linejoin="round"/><path d="M106.89999999999999,1090.7 L107.3,1088.8000000000002 A3.3,3.3 0 1 1 108.8,1090.3500000000001 Z" fill="none" stroke="#4b5563" stroke-width="1.05" stroke-linejoin="round"/><line x1="109.0" y1="1086.6000000000001" x2="112.0" y2="1086.6000000000001" stroke="#4b5563" stroke-width="0.8"/><line x1="109.0" y1="1088.2" x2="111.3" y2="1088.2" stroke="#4b5563" stroke-width="0.8"/><polygon points="734.70,1081.80 736.19,1085.15 739.84,1085.53 737.11,1087.98 737.87,1091.57 734.70,1089.74 731.53,1091.57 732.29,1087.98 729.56,1085.53 733.21,1085.15" fill="#fbbf24" stroke="#fbbf24" stroke-width="1" stroke-linejoin="round"/><clipPath id="c10875"><rect x="980" y="1083.3" width="39.200000000000045" height="8.4" rx="3.2"/></clipPath><g clip-path="url(#c10875)"><rect x="980" y="1083.3" width="6.2999999999999545" height="8.4" fill="#76c62f"/><rect x="986.3" y="1083.3" width="22.0" height="8.4" fill="#fac32c"/><rect x="1008.3" y="1083.3" width="10.900000000000091" height="8.4" fill="#f57f74"/></g><polyline points="88.6,1123.35 91.5,1126.25 94.4,1123.35" fill="none" stroke="#6b7280" stroke-width="1" stroke-linecap="round" stroke-linejoin="round"/><path d="M106.89999999999999,1127.8999999999999 L107.3,1126.0 A3.3,3.3 0 1 1 108.8,1127.55 Z" fill="none" stroke="#4b5563" stroke-width="1.05" stroke-linejoin="round"/><line x1="109.0" y1="1123.8" x2="112.0" y2="1123.8" stroke="#4b5563" stroke-width="0.8"/><line x1="109.0" y1="1125.3999999999999" x2="111.3" y2="1125.3999999999999" stroke="#4b5563" stroke-width="0.8"/><polygon points="734.70,1119.00 736.19,1122.35 739.84,1122.73 737.11,1125.18 737.87,1128.77 734.70,1126.94 731.53,1128.77 732.29,1125.18 729.56,1122.73 733.21,1122.35" fill="#fbbf24" stroke="#fbbf24" stroke-width="1" stroke-linejoin="round"/><clipPath id="c11248"><rect x="980" y="1120.6" width="33.200000000000045" height="8.4" rx="3.2"/></clipPath><g clip-path="url(#c11248)"><rect x="980" y="1120.6" width="7.2999999999999545" height="8.4" fill="#76c62f"/><rect x="987.3" y="1120.6" width="7.300000000000068" height="8.4" fill="#fac32c"/><rect x="994.6" y="1120.6" width="18.600000000000023" height="8.4" fill="#f57f74"/></g><polyline points="256.2,1126.5 258.8,1123.8 261.0,1125.6 265.2,1122.3" fill="none" stroke="#5b8def" stroke-width="1.2" stroke-linejoin="round" stroke-linecap="round"/><polyline points="262.4,1122.0 265.5,1122.0 265.5,1125.0" fill="none" stroke="#5b8def" stroke-width="1.2" stroke-linejoin="round" stroke-linecap="round"/><polyline points="88.6,1160.55 91.5,1163.45 94.4,1160.55" fill="none" stroke="#6b7280" stroke-width="1" stroke-linecap="round" stroke-linejoin="round"/><path d="M106.89999999999999,1165.1 L107.3,1163.2 A3.3,3.3 0 1 1 108.8,1164.75 Z" fill="none" stroke="#4b5563" stroke-width="1.05" stroke-linejoin="round"/><line x1="109.0" y1="1161.0" x2="112.0" y2="1161.0" stroke="#4b5563" stroke-width="0.8"/><line x1="109.0" y1="1162.6" x2="111.3" y2="1162.6" stroke="#4b5563" stroke-width="0.8"/><polygon points="734.70,1156.20 736.19,1159.55 739.84,1159.93 737.11,1162.38 737.87,1165.97 734.70,1164.14 731.53,1165.97 732.29,1162.38 729.56,1159.93 733.21,1159.55" fill="#fbbf24" stroke="#fbbf24" stroke-width="1" stroke-linejoin="round"/><clipPath id="c11670"><rect x="980" y="1162.8" width="33.200000000000045" height="8.4" rx="3.2"/></clipPath><g clip-path="url(#c11670)"><rect x="980" y="1162.8" width="7.2999999999999545" height="8.4" fill="#76c62f"/><rect x="987.3" y="1162.8" width="7.300000000000068" height="8.4" fill="#fac32c"/><rect x="994.6" y="1162.8" width="18.600000000000023" height="8.4" fill="#f57f74"/></g></svg>
<span class="t" style="font-size:15.3px;color:#374151;left:118.30px;top:1042.30px;letter-spacing:0.174px;">Quan hệ khách hàng</span>
<span class="t" style="font-size:12px;color:#70c42a;font-weight:700;left:486.26px;top:1044.60px;">4</span>
<span class="t" style="font-size:12.2px;color:#374151;left:590.30px;top:1044.60px;letter-spacing:-0.175px;">1522</span>
<span class="t" style="font-size:12.2px;color:#374151;left:717.40px;top:1044.60px;">4</span>
<span class="t" style="font-size:12.2px;color:#374151;left:855.20px;top:1044.60px;letter-spacing:-0.175px;">1522</span>
<span class="t" style="font-size:15.3px;color:#374151;left:118.30px;top:1079.40px;letter-spacing:0.442px;">Tiếp thị</span>
<span class="t" style="font-size:12px;color:#70c42a;font-weight:700;left:486.26px;top:1081.70px;">4</span>
<span class="t" style="font-size:12.2px;color:#374151;left:590.30px;top:1081.70px;letter-spacing:0.058px;">1394</span>
<span class="t" style="font-size:12.2px;color:#374151;left:717.40px;top:1081.70px;">4</span>
<span class="t" style="font-size:12.2px;color:#374151;left:855.20px;top:1081.70px;letter-spacing:0.058px;">1394</span>
<span class="t" style="font-size:15.3px;color:#374151;left:118.30px;top:1116.60px;letter-spacing:0.108px;">Phạm vi sản phẩm</span>
<span class="t" style="font-size:12px;color:#70c42a;font-weight:700;left:486.26px;top:1118.90px;">4</span>
<span class="t" style="font-size:12.2px;color:#374151;left:590.30px;top:1118.90px;letter-spacing:0.578px;">500</span>
<span class="t" style="font-size:12.2px;color:#374151;left:717.40px;top:1118.90px;">4</span>
<span class="t" style="font-size:12.2px;color:#374151;left:855.20px;top:1118.90px;letter-spacing:0.578px;">500</span>
<span class="t" style="font-size:15.3px;color:#374151;left:118.30px;top:1153.80px;letter-spacing:0.077px;">Cửa hàng bán lẻ</span>
<span class="t" style="font-size:12px;color:#70c42a;font-weight:700;left:486.26px;top:1156.10px;">4</span>
<span class="t" style="font-size:12.2px;color:#374151;left:590.30px;top:1156.10px;letter-spacing:0.578px;">437</span>
<span class="t" style="font-size:12.2px;color:#374151;left:717.40px;top:1156.10px;">4</span>
<span class="t" style="font-size:12.2px;color:#374151;left:855.20px;top:1156.10px;letter-spacing:0.578px;">437</span>
<span class="t" style="font-size:19.8px;color:#0f172a;-webkit-text-stroke:0.4px #0f172a;left:1159.00px;top:666.30px;letter-spacing:0.734px;">Các chủ đề “nóng”</span>
<div style="position:absolute;left:1342.3px;top:661.9px;width:61.9px;height:25.4px;background:#f1f5f9;border-radius:6px;"></div>
<span class="t" style="font-size:19px;color:#1e293b;left:1350.20px;top:664.90px;letter-spacing:-0.739px;transform-origin:0 0;transform:scaleX(0.9735);">CSAT</span>
<svg style="left:0;top:0;" width="1713" height="1308" viewBox="0 0 1713 1308"><line x1="1205.7" y1="753.9" x2="1620" y2="753.9" stroke="#eeeff2" stroke-width="1" stroke-dasharray="3 3"/><line x1="1205.7" y1="788.6" x2="1620" y2="788.6" stroke="#eeeff2" stroke-width="1" stroke-dasharray="3 3"/><line x1="1205.7" y1="823.4" x2="1620" y2="823.4" stroke="#eeeff2" stroke-width="1" stroke-dasharray="3 3"/><line x1="1205.7" y1="858.1" x2="1620" y2="858.1" stroke="#eeeff2" stroke-width="1" stroke-dasharray="3 3"/><line x1="1205.7" y1="892.9" x2="1620" y2="892.9" stroke="#eeeff2" stroke-width="1" stroke-dasharray="3 3"/><line x1="1205.7" y1="927.6" x2="1620" y2="927.6" stroke="#eeeff2" stroke-width="1" stroke-dasharray="3 3"/><line x1="1205.7" y1="962.4" x2="1620" y2="962.4" stroke="#eeeff2" stroke-width="1" stroke-dasharray="3 3"/><line x1="1205.7" y1="997.1" x2="1620" y2="997.1" stroke="#eeeff2" stroke-width="1" stroke-dasharray="3 3"/><line x1="1205.7" y1="1031.9" x2="1620" y2="1031.9" stroke="#eeeff2" stroke-width="1" stroke-dasharray="3 3"/><line x1="1205.7" y1="1066.7" x2="1620" y2="1066.7" stroke="#eeeff2" stroke-width="1" stroke-dasharray="3 3"/><line x1="1205.7" y1="1101.4" x2="1620" y2="1101.4" stroke="#eeeff2" stroke-width="1" stroke-dasharray="3 3"/><line x1="1233.4" y1="1101.6" x2="1233.4" y2="1108" stroke="#e9eaed" stroke-width="1"/><line x1="1292.7" y1="1101.6" x2="1292.7" y2="1108" stroke="#e9eaed" stroke-width="1"/><line x1="1351" y1="1101.6" x2="1351" y2="1108" stroke="#e9eaed" stroke-width="1"/><line x1="1410" y1="1101.6" x2="1410" y2="1108" stroke="#e9eaed" stroke-width="1"/><line x1="1469" y1="1101.6" x2="1469" y2="1108" stroke="#e9eaed" stroke-width="1"/><line x1="1527.3" y1="1101.6" x2="1527.3" y2="1108" stroke="#e9eaed" stroke-width="1"/><line x1="1585.7" y1="1101.6" x2="1585.7" y2="1108" stroke="#e9eaed" stroke-width="1"/><polyline points="1233.3,964.4 1292.6,985.3 1350.6,1034.5 1410.0,1016.9 1475.0,945.5 1537.6,897.0 1586.1,869.8" fill="none" stroke="#a6da2f" stroke-width="2.4" stroke-linejoin="round" stroke-linecap="round"/><polyline points="1233.3,998.2 1292.6,990.1 1350.6,974.0 1410.0,964.4 1537.6,869.8 1586.1,786.5" fill="none" stroke="#efb73e" stroke-width="2.4" stroke-linejoin="round" stroke-linecap="round"/><polyline points="1233.3,1049.4 1292.6,1019.9 1350.6,986.6 1410.0,986.6 1475.0,1002.7 1537.6,920.2 1586.1,903.1" fill="none" stroke="#7b5cf0" stroke-width="2.4" stroke-linejoin="round" stroke-linecap="round"/><polyline points="1233.3,1039.3 1292.6,1059.8 1350.6,1023.7 1410.0,1034.5 1475.0,994.2 1537.6,980.0 1586.1,835.2" fill="none" stroke="#e2603a" stroke-width="2.4" stroke-linejoin="round" stroke-linecap="round"/><polyline points="1233.3,1077.4 1292.6,1051.4 1350.6,1070.4 1410.0,1062.3 1470.0,1025.5 1526.8,1061.5 1586.1,924.5" fill="none" stroke="#2467e8" stroke-width="2.4" stroke-linejoin="round" stroke-linecap="round"/><line x1="1169.7" y1="1162.7" x2="1182.7" y2="1162.7" stroke="#2467e8" stroke-width="2.4" stroke-linecap="round"/><line x1="1371.1" y1="1162.7" x2="1384.1" y2="1162.7" stroke="#efb73e" stroke-width="2.4" stroke-linecap="round"/><line x1="1486.4" y1="1162.7" x2="1499.2" y2="1162.7" stroke="#e2603a" stroke-width="2.4" stroke-linecap="round"/><line x1="1227.2" y1="1192.8" x2="1240.2" y2="1192.8" stroke="#7b5cf0" stroke-width="2.4" stroke-linecap="round"/><line x1="1389.5" y1="1192.8" x2="1402.8" y2="1192.8" stroke="#a6da2f" stroke-width="2.4" stroke-linecap="round"/></svg>
<span class="t" style="font-size:15.5px;color:#71778a;left:1161.57px;top:745.80px;">40%</span>
<span class="t" style="font-size:15.5px;color:#71778a;left:1161.57px;top:780.58px;">35%</span>
<span class="t" style="font-size:15.5px;color:#71778a;left:1161.57px;top:815.36px;">30%</span>
<span class="t" style="font-size:15.5px;color:#71778a;left:1161.57px;top:850.14px;">25%</span>
<span class="t" style="font-size:15.5px;color:#71778a;left:1161.57px;top:884.92px;">20%</span>
<span class="t" style="font-size:15.5px;color:#71778a;left:1161.57px;top:919.70px;">15%</span>
<span class="t" style="font-size:15.5px;color:#71778a;left:1161.57px;top:954.48px;">10%</span>
<span class="t" style="font-size:15.5px;color:#71778a;left:1170.19px;top:989.26px;">5%</span>
<span class="t" style="font-size:15.5px;color:#71778a;left:1170.19px;top:1024.04px;">0%</span>
<span class="t" style="font-size:15.5px;color:#71778a;left:1165.02px;top:1058.82px;">-5%</span>
<span class="t" style="font-size:15.5px;color:#71778a;left:1156.41px;top:1093.60px;">-10%</span>
<span class="t" style="font-size:16px;color:#71778a;left:1215.90px;top:1120.60px;letter-spacing:-0.430px;transform-origin:0 0;transform:scaleX(0.9750);">Oct 1</span>
<span class="t" style="font-size:16px;color:#71778a;left:1274.25px;top:1120.60px;letter-spacing:-0.084px;">Oct 6</span>
<span class="t" style="font-size:16px;color:#71778a;left:1331.15px;top:1120.60px;letter-spacing:-0.414px;transform-origin:0 0;transform:scaleX(0.9775);">Oct 11</span>
<span class="t" style="font-size:16px;color:#71778a;left:1389.60px;top:1120.60px;letter-spacing:-0.388px;">Oct 16</span>
<span class="t" style="font-size:16px;color:#71778a;left:1449.35px;top:1120.60px;letter-spacing:-0.424px;transform-origin:0 0;transform:scaleX(0.9929);">Oct 21</span>
<span class="t" style="font-size:16px;color:#71778a;left:1507.75px;top:1120.60px;letter-spacing:-0.088px;">Oct 26</span>
<span class="t" style="font-size:16px;color:#71778a;left:1568.20px;top:1120.60px;letter-spacing:-0.388px;">Oct 31</span>
<span class="t" style="font-size:16.2px;color:#71778a;left:1190.50px;top:1155.50px;letter-spacing:-0.271px;">Chăm sóc khách hàng</span>
<span class="t" style="font-size:16.2px;color:#71778a;left:1392.80px;top:1155.50px;letter-spacing:-0.410px;transform-origin:0 0;transform:scaleX(0.9896);">Tính năng</span>
<span class="t" style="font-size:16.2px;color:#71778a;left:1507.20px;top:1155.50px;letter-spacing:-0.234px;">Hoàn trả hàng</span>
<span class="t" style="font-size:16.2px;color:#71778a;left:1248.00px;top:1185.50px;letter-spacing:-0.393px;transform-origin:0 0;transform:scaleX(0.9952);">Chất lượng hàng</span>
<span class="t" style="font-size:16.2px;color:#71778a;left:1411.50px;top:1185.50px;letter-spacing:-0.360px;">Thời gian giao hàng</span>
</div></body></html>
